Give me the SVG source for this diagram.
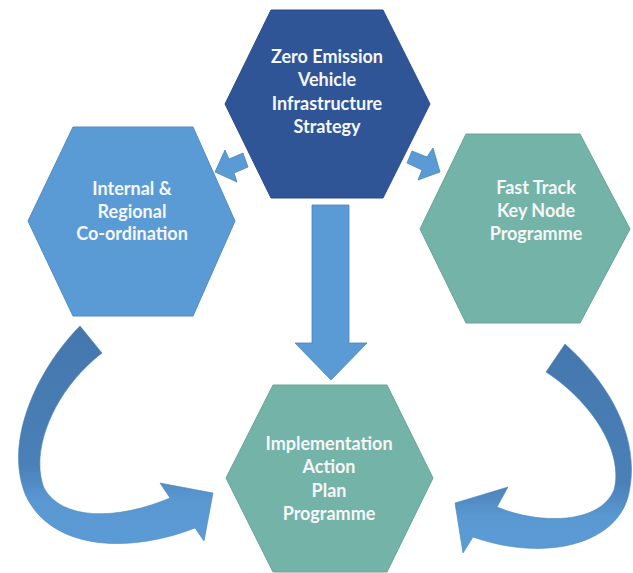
<svg xmlns="http://www.w3.org/2000/svg" width="633" height="573" viewBox="0 0 633 573">
  <style>
    .hex { stroke-width: 1; }
    .dark { fill: #2f5597; stroke: #2a4d88; }
    .blue { fill: #5b9bd5; stroke: #4f8bc2; }
    .teal { fill: #74b3a8; stroke: #68a397; }
    .label { font-family: Lato, "Open Sans", "Liberation Sans", sans-serif; font-weight: bold; font-size: 18px; fill: #f6f7f8; text-anchor: middle; }
    .arrow { fill: #5b9bd5; stroke: #4a84bb; stroke-width: 0.8; stroke-linejoin: miter; }
  </style>
  <defs>
    <linearGradient id="ribbonLeft" x1="0" y1="326" x2="0" y2="550" gradientUnits="userSpaceOnUse">
      <stop offset="0" stop-color="#4477ad"/>
      <stop offset="0.62" stop-color="#4a80b8"/>
      <stop offset="0.78" stop-color="#5a98d2"/>
      <stop offset="1" stop-color="#5b9bd5"/>
    </linearGradient>
    <linearGradient id="ribbonRight" x1="0" y1="344" x2="0" y2="555" gradientUnits="userSpaceOnUse">
      <stop offset="0" stop-color="#4477ad"/>
      <stop offset="0.66" stop-color="#4a80b8"/>
      <stop offset="0.82" stop-color="#5a98d2"/>
      <stop offset="1" stop-color="#5b9bd5"/>
    </linearGradient>
  </defs>

  <rect width="633" height="573" fill="#ffffff"/>

  <!-- connectors -->
  <g id="connectors">
    <!-- strategy to co-ordination -->
    <polygon class="arrow" points="215,172 225,150 229,159 243,153 248,167 234,173 237,182"/>
    <!-- strategy to fast track -->
    <polygon class="arrow" points="440,172 418,180 422,170 407,163 412,151 427,157 433,148"/>
    <!-- strategy down to implementation -->
    <polygon class="arrow" points="312,205 349,205 349,343 367,343 331,380 295,343 312,343"/>
    <!-- co-ordination round to implementation -->
    <path d="M80,326 C40,366 2,440 26,496 C52,550 128,554 195,528 L204,541 L213,493 L160,483 L170,498 C118,520 62,521 44,488 C30,452 52,392 102,353 Z" fill="url(#ribbonLeft)" stroke="#4a84bb" stroke-width="0.6"/>
    <!-- fast track round to implementation -->
    <path d="M565,344 C612,386 642,442 628,497 C614,547 540,561 473,537 L463,553 L455,503 L508,487 L497,507 C540,525 600,524 614,490 C624,452 592,402 546,372 Z" fill="url(#ribbonRight)" stroke="#4a84bb" stroke-width="0.6"/>
  </g>

  <g id="strategy">
    <polygon class="hex dark" points="271,10 383,10 430,104 383,198 271,198 225,104"/>
    <text class="label" x="327" y="63">Zero Emission</text>
    <text class="label" x="327" y="86">Vehicle</text>
    <text class="label" x="327" y="110">Infrastructure</text>
    <text class="label" x="327" y="133">Strategy</text>
  </g>

  <g id="coordination">
    <polygon class="hex blue" points="73,127 193,127 235,221 193,316 73,316 28,221"/>
    <text class="label" x="132" y="195">Internal &amp;</text>
    <text class="label" x="132" y="218">Regional</text>
    <text class="label" x="132" y="240">Co-ordination</text>
  </g>

  <g id="fast-track">
    <polygon class="hex teal" points="466,134 580,134 630,229 580,323 466,323 420,229"/>
    <text class="label" x="536" y="194">Fast Track</text>
    <text class="label" x="536" y="217">Key Node</text>
    <text class="label" x="536" y="240">Programme</text>
  </g>

  <g id="implementation">
    <polygon class="hex teal" points="273,385 387,385 433,478 387,572 273,572 226,478"/>
    <text class="label" x="329" y="450">Implementation</text>
    <text class="label" x="329" y="473">Action</text>
    <text class="label" x="329" y="497">Plan</text>
    <text class="label" x="329" y="520">Programme</text>
  </g>
</svg>
